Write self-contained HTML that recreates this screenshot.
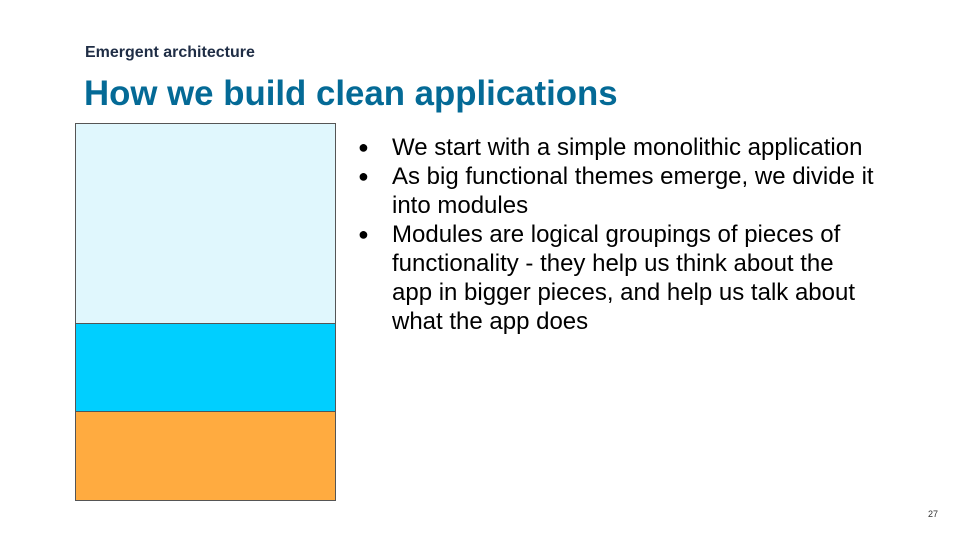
<!DOCTYPE html>
<html><head><style>
body{margin:0;width:960px;height:540px;background:#fff;position:relative;overflow:hidden;font-family:"Liberation Sans",sans-serif}
.sub{position:absolute;left:85px;top:44px;font-size:16px;font-weight:bold;color:#1f2d45}
.title{position:absolute;left:84px;top:74px;font-size:34.8px;font-weight:bold;color:#046a96}
.box{position:absolute;left:75px;width:259px;border:1px solid #555}
ul{position:absolute;left:355px;top:133px;margin:0;padding:0;list-style:none;width:522px;font-size:24px;line-height:29px;color:#000}
li{position:relative;padding-left:37px}
li:before{content:"●";position:absolute;left:3px;font-size:18px}
.num{position:absolute;left:928px;top:509px;font-size:9px;color:#333}
</style></head><body>
<div class="sub">Emergent architecture</div>
<div class="title">How we build clean applications</div>
<div class="box" style="top:123px;height:200px;background:#e0f7fd"></div>
<div class="box" style="top:323px;height:88px;background:#00cfff"></div>
<div class="box" style="top:411px;height:88px;background:#ffab40"></div>
<ul>
<li>We start with a simple monolithic application</li>
<li>As big functional themes emerge, we divide it into modules</li>
<li>Modules are logical groupings of pieces of functionality - they help us think about the app in bigger pieces, and help us talk about what the app does</li>
</ul>
<div class="num">27</div>
</body></html>
